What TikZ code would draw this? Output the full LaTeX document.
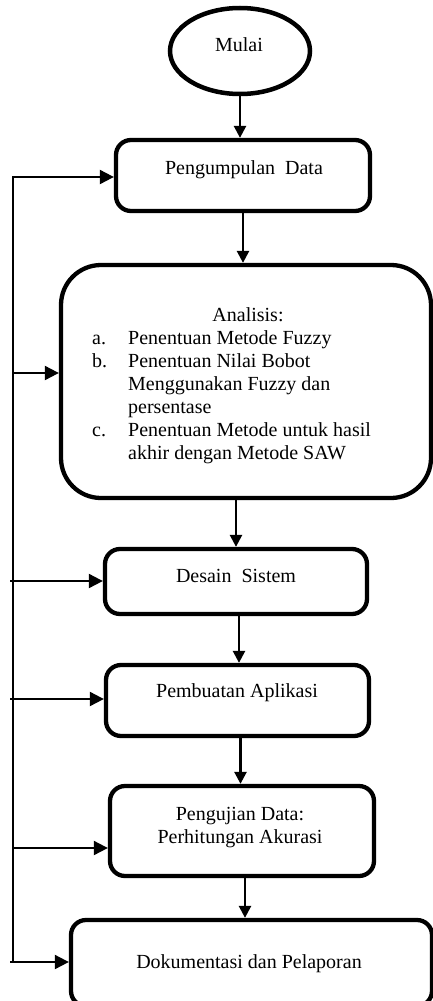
\documentclass[tikz,border=0pt]{standalone}
\usepackage{fontspec}
\setmainfont{Liberation Serif}
\usetikzlibrary{shapes.geometric, positioning, arrows.meta}

\begin{document}
\begin{tikzpicture}[x=1pt, y=-1pt,
    font=\fontsize{20}{23}\selectfont,
    stepbox/.style={draw, rectangle, rounded corners=15pt, line width=4.3pt, inner sep=0pt},
    startnode/.style={draw, ellipse, line width=4.5pt, inner sep=0pt},
    flow/.style={-{Triangle[length=12pt, width=12pt]}, line width=2.5pt},
    back/.style={-{Triangle[length=14pt, width=14pt]}, line width=2pt}]

        \useasboundingbox (0,0) rectangle (432,1001);

        % Shapes
        \node[startnode, minimum width=140pt, minimum height=86pt] (mulai) at (240,51) {};
        \node[stepbox, minimum width=254pt, minimum height=71pt] (data) at (243,175.5) {};
        \node[stepbox, rounded corners=40pt, minimum width=370pt, minimum height=233pt] (analisis) at (246,381.5) {};
        \node[stepbox, minimum width=262pt, minimum height=65pt] (desain) at (236,581.5) {};
        \node[stepbox, minimum width=263pt, minimum height=71pt] (aplikasi) at (237.5,700.5) {};
        \node[stepbox, minimum width=264pt, minimum height=90pt] (uji) at (242,831) {};
        \node[stepbox, minimum width=361pt, minimum height=86pt] (lapor) at (251.5,963) {};

        % Texts
        \node[anchor=base] (mulai-txt) at (239,51) {Mulai};
        \node[anchor=base] (data-txt) at (244,174) {Pengumpulan\ \ Data};
        \node[anchor=base] (analisis-txt) at (248,321) {Analisis:};
        \node[anchor=base west, inner sep=0pt] (analisis-list) at (92,344) {%
            \begin{tabular}[t]{@{}p{36pt}@{}l@{}}
            a. & Penentuan Metode Fuzzy\\
            b. & Penentuan Nilai Bobot\\
               & Menggunakan Fuzzy dan\\
               & persentase\\
            c. & Penentuan Metode untuk hasil\\
               & akhir dengan Metode SAW
            \end{tabular}};
        \node[anchor=base] (desain-txt) at (236,582) {Desain\ \ Sistem};
        \node[anchor=base] (aplikasi-txt) at (237,697) {Pembuatan Aplikasi};
        \node[anchor=base, inner sep=0pt] (uji-txt) at (240,820) {%
            \begin{tabular}[t]{@{}c@{}}Pengujian Data:\\Perhitungan Akurasi\end{tabular}};
        \node[anchor=base] (lapor-txt) at (249,968) {Dokumentasi dan Pelaporan};

        % Main flow
        \draw[flow] (mulai.south) -- (mulai.south |- data.north);
        \draw[flow] (data.south) -- (data.south |- analisis.north);
        \draw[flow] (desain.north |- analisis.south) -- (desain.north);
        \draw[flow] ([xshift=3pt]desain.south) -- ([xshift=3pt]desain.south |- aplikasi.north);
        \draw[flow] ([xshift=3pt]aplikasi.south) -- ([xshift=3pt]aplikasi.south |- uji.north);
        \draw[flow] ([xshift=3pt]uji.south) -- ([xshift=3pt]uji.south |- lapor.north);

        % Feedback line on the left
        \coordinate (top) at (13,177);
        \coordinate (bot) at (13,962);
        \coordinate (f2) at (13,373);
        \coordinate (f3) at (10,581);
        \coordinate (f4) at (10,699);
        \coordinate (f5) at (13,848);
        \coordinate (f6) at (10,962);
        \draw[back] (bot) -- (top) -- (top -| data.west);
        \draw[back] (f2) -- (f2 -| analisis.west);
        \draw[back] (f3) -- (f3 -| desain.west);
        \draw[back] (f4) -- (f4 -| aplikasi.west);
        \draw[back] (f5) -- (f5 -| uji.west);
        \draw[back] (f6) -- (f6 -| lapor.west);
\end{tikzpicture}
\end{document}
